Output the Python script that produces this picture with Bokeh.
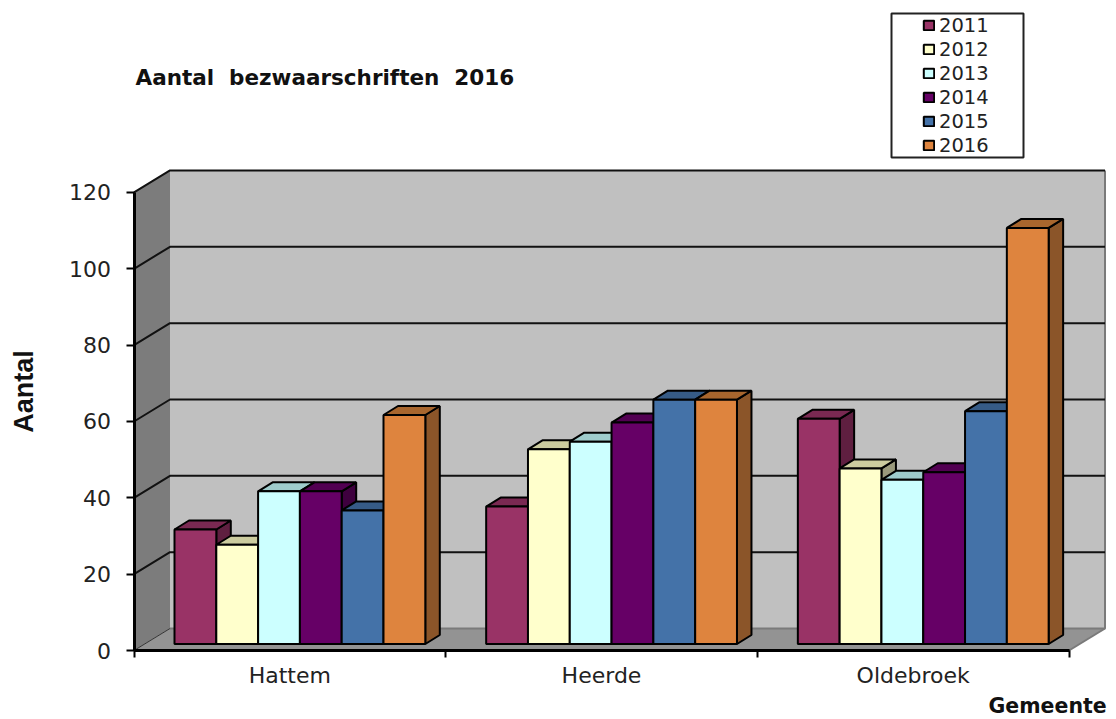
from bokeh.plotting import figure
from bokeh.models import ColumnDataSource, Legend, LegendItem, Label, FixedTicker, LinearAxis, Range1d, BoxAnnotation
from bokeh.embed import file_html
from bokeh.resources import INLINE

categories = ["Hattem", "Heerde", "Oldebroek"]
years = ["2011", "2012", "2013", "2014", "2015", "2016"]
s2011 = [30, 36, 59]
s2012 = [26, 51, 46]
s2013 = [40, 53, 43]
s2014 = [40, 58, 45]
s2015 = [35, 64, 61]
s2016 = [60, 64, 109]
series = [s2011, s2012, s2013, s2014, s2015, s2016]
y_ticks = [0, 20, 40, 60, 80, 100, 120]

fronts = ["#993366", "#FFFFCC", "#CCFFFF", "#660066", "#4472A8", "#DE843E"]
tops = ["#7A2952", "#CCCC9F", "#9FCCCC", "#520052", "#365B86", "#A8662E"]
sides = ["#5F1F40", "#9A9A7C", "#7C9A9A", "#3E003E", "#2A4568", "#8B5529"]

# pixel geometry of the picture
W, H = 1116, 719
AX_L, AX_B = 133.5, 650.0
PX_X = 311.67   # pixels per category
PX_Y = 3.817    # pixels per unit
def X(px): return (px - AX_L) / PX_X
def Y(py): return (AX_B - py) / PX_Y

WALL_DX, WALL_DY = 36 / PX_X, 22 / PX_Y      # depth of chart box
FLOOR_DY = 6.5 / PX_Y                        # bars stand a little forward
BAR_OFF, BAR_W = 40.5 / PX_X, 41.8 / PX_X
BAR_DX, BAR_DY = 14.5 / PX_X, 9 / PX_Y

p = figure(width=W, height=H, output_backend="svg", toolbar_location=None,
           x_range=Range1d(X(0), X(W)), y_range=Range1d(Y(H), Y(0)),
           x_axis_type=None, y_axis_type=None,
           min_border_left=0, min_border_right=0, min_border_top=0, min_border_bottom=0)
p.outline_line_color = None
p.grid.visible = False
p.background_fill_color = "white"

N = len(categories)
top = y_ticks[-1]
# walls and floor
p.patch([0, WALL_DX, WALL_DX, 0], [0, WALL_DY, top + WALL_DY, top], fill_color="#7C7C7C", line_color=None)
p.patch([0, N, N + WALL_DX, WALL_DX], [0, 0, WALL_DY, WALL_DY], fill_color="#939393", line_color=None)
p.quad(left=[WALL_DX], right=[N + WALL_DX], bottom=[WALL_DY], top=[top + WALL_DY],
       fill_color="#C0C0C0", line_color=None)
p.multi_line([[WALL_DX, N + WALL_DX, N + WALL_DX], [N + WALL_DX, N]],
             [[WALL_DY, WALL_DY, top + WALL_DY], [WALL_DY, 0]], line_color="#7A7A7A", line_width=2)
# gridlines
for v in y_ticks:
    if v == 0:
        continue
    p.line([0, WALL_DX, N + WALL_DX], [v, v + WALL_DY, v + WALL_DY], line_color="#111111", line_width=2)
p.line([0, WALL_DX], [0, WALL_DY], line_color="#333333", line_width=1)

# bars
items = []
for i, vals in enumerate(series):
    l = [c + BAR_OFF + i * BAR_W for c in range(N)]
    r = [a + BAR_W for a in l]
    b = FLOOR_DY
    side_src = ColumnDataSource(dict(
        xs=[[e, e + BAR_DX, e + BAR_DX, e] for e in r],
        ys=[[b, b + BAR_DY, b + v + BAR_DY, b + v] for v in vals]))
    top_src = ColumnDataSource(dict(
        xs=[[a, a + BAR_DX, e + BAR_DX, e] for a, e in zip(l, r)],
        ys=[[b + v, b + v + BAR_DY, b + v + BAR_DY, b + v] for v in vals]))
    p.patches("xs", "ys", source=side_src, fill_color=sides[i], line_color="black", line_width=2)
    p.patches("xs", "ys", source=top_src, fill_color=tops[i], line_color="black", line_width=2)
    front = p.quad(left=l, right=r, bottom=[b] * N, top=[b + v for v in vals],
                   fill_color=fronts[i], line_color="black", line_width=2)
    items.append(LegendItem(label=years[i], renderers=[front]))

# axes
yaxis = LinearAxis(ticker=FixedTicker(ticks=y_ticks), bounds=(0, top), fixed_location=0)
yaxis.axis_line_color = "black"
yaxis.axis_line_width = 3
yaxis.major_tick_in = 0
yaxis.major_tick_out = 8
yaxis.major_tick_line_width = 2
yaxis.minor_tick_line_color = None
yaxis.major_label_text_font = "DejaVu Sans"
yaxis.major_label_text_font_size = "22px"
yaxis.major_label_text_color = "#222222"
yaxis.major_label_standoff = 15
p.add_layout(yaxis, "left")

xaxis = LinearAxis(ticker=FixedTicker(ticks=[c + 0.5 for c in range(N)], minor_ticks=list(range(N + 1))),
                   bounds=(0, N), fixed_location=0)
xaxis.major_label_overrides = {c + 0.5: categories[c] for c in range(N)}
xaxis.axis_line_color = "black"
xaxis.axis_line_width = 3
xaxis.major_tick_line_color = None
xaxis.minor_tick_in = 0
xaxis.minor_tick_out = 7
xaxis.minor_tick_line_width = 2
xaxis.major_label_text_font = "DejaVu Sans"
xaxis.major_label_text_font_size = "22px"
xaxis.major_label_text_color = "#222222"
xaxis.major_label_standoff = 5
p.add_layout(xaxis, "below")

# legend
p.add_layout(BoxAnnotation(left=X(891), right=X(1023), bottom=Y(157), top=Y(13),
                           fill_color="white", fill_alpha=1, line_color="#222222", line_alpha=1, line_width=2))
legend = Legend(items=items, location=(922, H - 157), padding=0, margin=0, spacing=0,
                border_line_color=None, background_fill_alpha=0,
                glyph_width=13, glyph_height=12, label_height=24, label_standoff=4,
                label_text_font="DejaVu Sans", label_text_font_size="19.5px",
                label_text_color="#222222", label_text_baseline="middle")
p.add_layout(legend, "center")

# titles
p.add_layout(Label(x=X(135), y=Y(77),
                   text="Aantal\u00a0\u00a0bezwaarschriften\u00a0\u00a02016", text_font="DejaVu Sans",
                   text_font_style="bold", text_font_size="21.5px", text_baseline="middle", text_color="#111111"))
p.add_layout(Label(x=X(23), y=Y(391),
                   text="Aantal", text_font="Liberation Sans", text_font_style="bold", text_font_size="27px",
                   angle=90, angle_units="deg", text_align="center", text_baseline="middle", text_color="#111111"))
p.add_layout(Label(x=X(988), y=Y(705),
                   text="Gemeente", text_font="DejaVu Sans", text_font_style="bold",
                   text_font_size="20.5px", text_baseline="middle", text_color="#111111"))

open("out.html", "w").write(file_html(p, INLINE))
